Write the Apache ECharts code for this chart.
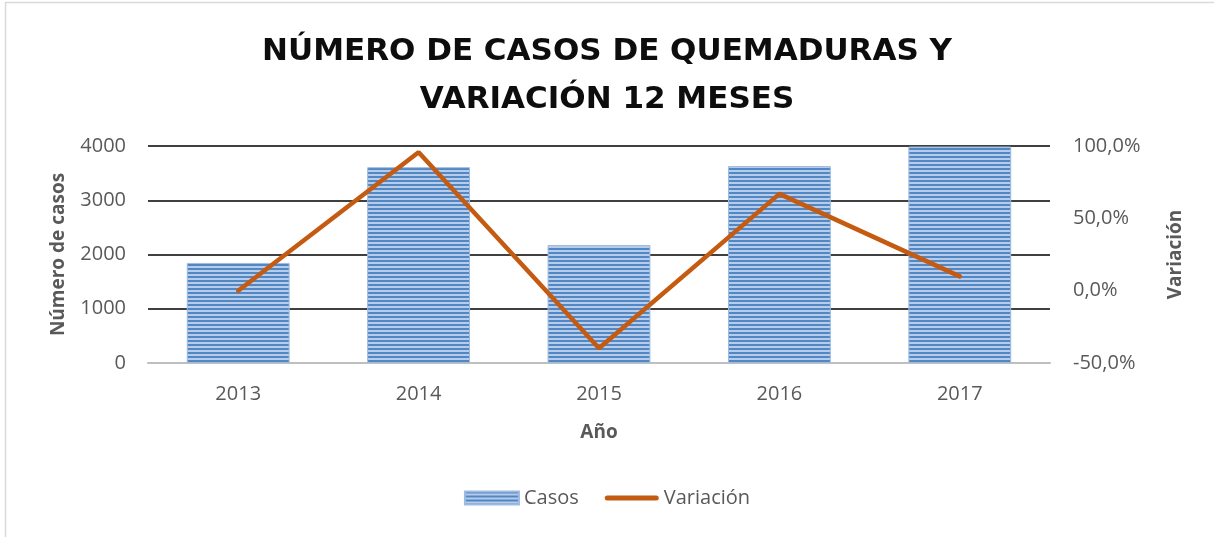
<!DOCTYPE html>
<html><head><meta charset="utf-8">
<script src="https://cdn.jsdelivr.net/npm/echarts@6/dist/echarts.min.js"></script>
<style>html,body{margin:0;padding:0;background:#fff}#c{width:1214px;height:537px}</style>
</head><body><div id="c"></div>
<script>
const years = ['2013','2014','2015','2016','2017'];
const casos = [1845, 3610, 2175, 3630, 3990];
const variacion = [0.0, 95.7, -39.8, 66.9, 9.9];
const leftTicks = {min:0, max:4000, interval:1000};
const rightTicks = {min:-50, max:100, interval:50};

const pc = document.createElement('canvas');
pc.width = 4; pc.height = 4;
const g = pc.getContext('2d');
g.fillStyle = '#b7cce9'; g.fillRect(0,0,4,4);
g.fillStyle = '#5287c5'; g.fillRect(0,0,4,2);

const font = '"Open Sans", sans-serif';
const grey = '#595959';
const chart = echarts.init(document.getElementById('c'), null, {renderer:'canvas'});
chart.setOption({
  animation:false,
  backgroundColor:'#fff',
  graphic:[{type:'rect', shape:{x:5.5,y:2.5,width:1300,height:700}, style:{fill:'none', stroke:'#d9d9d9', lineWidth:1.5}, silent:true}],
  title:{
    text:'NÚMERO DE CASOS DE QUEMADURAS Y\nVARIACIÓN 12 MESES',
    left:'center', top:23,
    textStyle:{fontFamily:'"DejaVu Sans", sans-serif', fontWeight:'bold', fontSize:31, color:'#0d0d0d', lineHeight:48}
  },
  legend:{
    bottom:24, left:'center', itemGap:26, itemWidth:54, itemHeight:13,
    textStyle:{fontFamily:font, fontSize:20, color:grey},
    data:[{name:'Casos', icon:'rect'},
          {name:'Variación', icon:'path://M2.5,0 L51.5,0 A2.5,2.5 0 0 1 51.5,5 L2.5,5 A2.5,2.5 0 0 1 2.5,0 Z'}]
  },
  grid:{left:148, right:164, top:146, bottom:174},
  xAxis:{
    type:'category', data:years,
    axisLine:{lineStyle:{color:'#bfbfbf', width:2}},
    axisTick:{show:false},
    axisLabel:{fontFamily:font, fontSize:20, color:grey, margin:21},
    name:'Año', nameLocation:'middle', nameGap:60,
    nameTextStyle:{fontFamily:font, fontSize:19, fontWeight:'bold', color:grey}
  },
  yAxis:[{
    type:'value', min:leftTicks.min, max:leftTicks.max, interval:leftTicks.interval,
    axisLine:{show:false}, axisTick:{show:false},
    splitLine:{lineStyle:{color:'#000', width:1.5}},
    axisLabel:{fontFamily:font, fontSize:20, color:grey, margin:22, formatter:v=>String(v)},
    name:'Número de casos', nameLocation:'middle', nameGap:80, nameRotate:90,
    nameTextStyle:{fontFamily:font, fontSize:19, fontWeight:'bold', color:grey}
  },{
    type:'value', min:rightTicks.min, max:rightTicks.max, interval:rightTicks.interval,
    axisLine:{show:false}, axisTick:{show:false}, splitLine:{show:false},
    axisLabel:{fontFamily:font, fontSize:20, color:grey, margin:23,
      formatter:v=>v.toFixed(1).replace('.',',')+'%'},
    name:'Variación', nameLocation:'middle', nameGap:116, nameRotate:90,
    nameTextStyle:{fontFamily:font, fontSize:19, fontWeight:'bold', color:grey}
  }],
  series:[{
    name:'Casos', type:'bar', data:casos, barWidth:'57%',
    itemStyle:{color:{image:pc, repeat:'repeat'}, borderColor:'#9dbbe0', borderWidth:1}
  },{
    name:'Variación', type:'line', yAxisIndex:1, data:variacion,
    showSymbol:false, symbol:'none',
    lineStyle:{color:'#c55a11', width:4.5, cap:'round'}, itemStyle:{color:'#c55a11'}
  }]
});
</script></body></html>
